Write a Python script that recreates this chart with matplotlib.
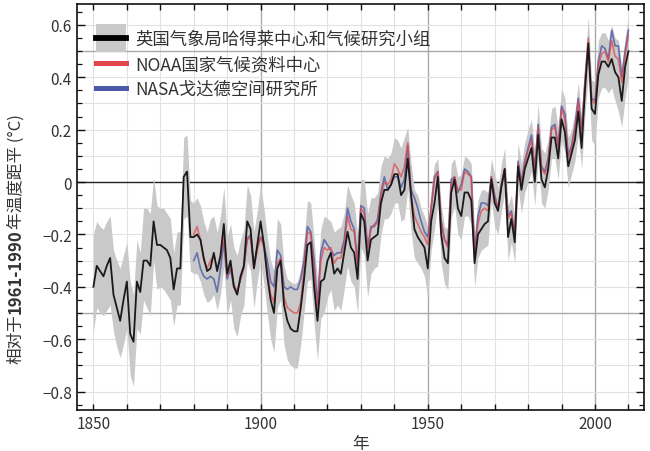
import matplotlib
matplotlib.use('Agg')
import matplotlib.pyplot as plt
import numpy as np
from matplotlib.patches import Rectangle
from matplotlib.lines import Line2D
from matplotlib.legend_handler import HandlerBase

plt.rcParams['font.family'] = ['Noto Sans CJK SC', 'DejaVu Sans']

years_had = np.arange(1850, 2011)
hadcrut = [
    -0.40, -0.32, -0.34, -0.36, -0.32, -0.29, -0.43, -0.48, -0.53, -0.45,
    -0.38, -0.58, -0.61, -0.38, -0.42, -0.30, -0.30, -0.32, -0.15, -0.24,
    -0.24, -0.25, -0.26, -0.29, -0.41, -0.33, -0.33, 0.02, 0.04, -0.21,
    -0.21, -0.20, -0.22, -0.29, -0.34, -0.33, -0.27, -0.34, -0.28, -0.16,
    -0.35, -0.30, -0.40, -0.43, -0.36, -0.32, -0.15, -0.18, -0.33, -0.24,
    -0.15, -0.24, -0.36, -0.45, -0.50, -0.33, -0.30, -0.47, -0.53, -0.56,
    -0.57, -0.57, -0.48, -0.37, -0.24, -0.23, -0.40, -0.53, -0.38, -0.37,
    -0.30, -0.27, -0.35, -0.33, -0.35, -0.27, -0.19, -0.25, -0.27, -0.37,
    -0.12, -0.15, -0.30, -0.22, -0.21, -0.20, -0.08, -0.03, -0.03, -0.01,
    0.03, 0.03, -0.05, -0.03, 0.09, -0.05, -0.18, -0.21, -0.23, -0.25,
    -0.33, -0.15, -0.08, 0.02, -0.20, -0.29, -0.31, -0.04, 0.01, -0.10,
    -0.13, -0.04, -0.04, -0.07, -0.31, -0.20, -0.18, -0.16, -0.15, 0.01,
    -0.08, -0.11, -0.02, 0.05, -0.21, -0.14, -0.23, 0.06, -0.03, 0.05,
    0.09, 0.13, 0.00, 0.18, 0.01, -0.02, 0.05, 0.17, 0.17, 0.09,
    0.24, 0.19, 0.06, 0.11, 0.16, 0.27, 0.13, 0.35, 0.53, 0.28,
    0.26, 0.41, 0.46, 0.46, 0.44, 0.47, 0.42, 0.40, 0.31, 0.44, 0.50]
band_upper = [
    -0.20, -0.15, -0.17, -0.18, -0.15, -0.13, -0.26, -0.30, -0.33, -0.28,
    -0.23, -0.38, -0.43, -0.22, -0.27, -0.10, -0.10, -0.12, 0.02, -0.09,
    -0.10, -0.10, -0.12, -0.14, -0.27, -0.19, -0.19, 0.17, 0.18, -0.07,
    -0.08, -0.06, -0.09, -0.15, -0.19, -0.14, -0.13, -0.19, -0.13, -0.02,
    -0.21, -0.16, -0.25, -0.28, -0.22, -0.18, -0.01, -0.05, -0.19, -0.11,
    -0.01, -0.10, -0.21, -0.30, -0.34, -0.14, -0.16, -0.32, -0.37, -0.38,
    -0.39, -0.38, -0.33, -0.22, -0.07, -0.08, -0.22, -0.38, -0.18, -0.13,
    -0.14, -0.15, -0.19, -0.18, -0.17, -0.12, -0.01, -0.05, -0.08, -0.20,
    0.01, 0.01, -0.12, -0.06, -0.06, -0.04, 0.06, 0.10, 0.09, 0.11,
    0.17, 0.16, 0.13, 0.17, 0.21, 0.07, -0.03, -0.05, -0.10, -0.13,
    -0.17, -0.03, 0.07, 0.09, -0.09, -0.17, -0.18, 0.07, 0.09, 0.02,
    0.03, 0.10, 0.09, 0.07, -0.19, -0.07, -0.03, -0.03, -0.04, 0.09,
    0.03, -0.02, 0.07, 0.13, -0.09, -0.05, -0.13, 0.15, 0.07, 0.15,
    0.20, 0.24, 0.11, 0.30, 0.13, 0.11, 0.16, 0.28, 0.29, 0.21,
    0.36, 0.32, 0.17, 0.20, 0.27, 0.38, 0.25, 0.46, 0.63, 0.39,
    0.38, 0.54, 0.57, 0.57, 0.54, 0.60, 0.55, 0.54, 0.44, 0.55, 0.63]
band_lower = [
    -0.57, -0.48, -0.50, -0.51, -0.49, -0.47, -0.57, -0.63, -0.67, -0.62,
    -0.56, -0.74, -0.78, -0.56, -0.58, -0.45, -0.48, -0.51, -0.30, -0.41,
    -0.40, -0.41, -0.43, -0.45, -0.55, -0.47, -0.47, -0.14, -0.13, -0.34,
    -0.35, -0.35, -0.38, -0.43, -0.46, -0.45, -0.43, -0.49, -0.43, -0.32,
    -0.51, -0.45, -0.56, -0.59, -0.51, -0.47, -0.30, -0.34, -0.48, -0.38,
    -0.30, -0.39, -0.50, -0.60, -0.65, -0.48, -0.45, -0.62, -0.68, -0.70,
    -0.71, -0.71, -0.62, -0.50, -0.38, -0.37, -0.54, -0.68, -0.52, -0.50,
    -0.44, -0.41, -0.49, -0.47, -0.49, -0.41, -0.32, -0.38, -0.40, -0.50,
    -0.25, -0.28, -0.44, -0.35, -0.33, -0.32, -0.20, -0.14, -0.14, -0.12,
    -0.08, -0.08, -0.15, -0.14, -0.03, -0.19, -0.29, -0.31, -0.33, -0.36,
    -0.44, -0.26, -0.18, -0.08, -0.31, -0.39, -0.41, -0.14, -0.09, -0.20,
    -0.22, -0.13, -0.13, -0.16, -0.40, -0.29, -0.26, -0.25, -0.24, -0.07,
    -0.17, -0.20, -0.11, -0.04, -0.30, -0.23, -0.31, -0.02, -0.12, -0.04,
    0.00, 0.04, -0.09, 0.09, -0.08, -0.10, -0.03, 0.09, 0.09, 0.01,
    0.16, 0.11, -0.02, 0.03, 0.08, 0.18, 0.05, 0.26, 0.41, 0.16,
    0.14, 0.32, 0.36, 0.36, 0.34, 0.36, 0.31, 0.27, 0.21, 0.32, 0.40]

years_us = np.arange(1880, 2011)
noaa = [
    -0.20, -0.17, -0.22, -0.30, -0.33, -0.30, -0.28, -0.33, -0.29, -0.21,
    -0.36, -0.32, -0.39, -0.42, -0.37, -0.33, -0.21, -0.22, -0.33, -0.26,
    -0.21, -0.25, -0.34, -0.43, -0.46, -0.31, -0.29, -0.44, -0.48, -0.49,
    -0.50, -0.50, -0.46, -0.33, -0.19, -0.20, -0.33, -0.50, -0.30, -0.25,
    -0.26, -0.25, -0.31, -0.29, -0.29, -0.24, -0.13, -0.18, -0.19, -0.32,
    -0.10, -0.12, -0.27, -0.18, -0.16, -0.16, -0.05, 0.00, -0.01, 0.01,
    0.07, 0.05, 0.02, 0.06, 0.15, -0.05, -0.13, -0.16, -0.19, -0.21,
    -0.24, -0.10, 0.01, 0.04, -0.15, -0.22, -0.25, -0.01, 0.02, -0.03,
    -0.03, 0.04, 0.03, 0.02, -0.29, -0.16, -0.11, -0.10, -0.11, 0.02,
    -0.06, -0.10, -0.01, 0.05, -0.14, -0.12, -0.20, 0.07, -0.01, 0.07,
    0.12, 0.16, 0.04, 0.21, 0.05, 0.03, 0.08, 0.20, 0.21, 0.13,
    0.28, 0.24, 0.09, 0.13, 0.20, 0.31, 0.18, 0.39, 0.55, 0.31,
    0.30, 0.44, 0.49, 0.50, 0.46, 0.54, 0.48, 0.47, 0.38, 0.48, 0.56]
nasa = [
    -0.30, -0.27, -0.33, -0.36, -0.37, -0.36, -0.37, -0.42, -0.33, -0.23,
    -0.37, -0.33, -0.40, -0.42, -0.37, -0.32, -0.22, -0.20, -0.32, -0.25,
    -0.21, -0.24, -0.30, -0.38, -0.40, -0.26, -0.28, -0.40, -0.41, -0.40,
    -0.41, -0.41, -0.37, -0.30, -0.17, -0.19, -0.30, -0.47, -0.27, -0.22,
    -0.24, -0.26, -0.28, -0.27, -0.27, -0.22, -0.10, -0.15, -0.18, -0.31,
    -0.09, -0.10, -0.25, -0.17, -0.17, -0.14, -0.04, 0.02, -0.03, -0.01,
    0.02, 0.02, -0.02, 0.01, 0.14, -0.03, -0.06, -0.10, -0.15, -0.19,
    -0.21, -0.10, 0.02, 0.04, -0.15, -0.22, -0.24, 0.01, 0.02, -0.04,
    -0.01, 0.05, 0.04, 0.02, -0.27, -0.13, -0.08, -0.08, -0.09, 0.02,
    -0.05, -0.10, -0.01, 0.05, -0.13, -0.11, -0.21, 0.08, 0.00, 0.08,
    0.13, 0.18, 0.05, 0.22, 0.06, 0.04, 0.09, 0.21, 0.22, 0.14,
    0.29, 0.26, 0.10, 0.14, 0.21, 0.32, 0.20, 0.38, 0.52, 0.32,
    0.31, 0.46, 0.52, 0.51, 0.47, 0.58, 0.52, 0.52, 0.40, 0.50, 0.58]

labels = ['英国气象局哈得莱中心和气候研究小组', 'NOAA国家气候资料中心', 'NASA戈达德空间研究所']
xticks = [1850, 1900, 1950, 2000]
yticks = [-0.8, -0.6, -0.4, -0.2, 0.0, 0.2, 0.4, 0.6]
xlabel = '年'
ylabel_parts = ['相对于', '1961-1990', '年温度距平 (°C)']

BAND_C = '#c9c9c9'
RED_C = '#e0464b'
BLUE_C = '#4a5aa8'
TXT = '#333333'

fig = plt.figure(figsize=(6.5, 4.52), dpi=100)
ax = fig.add_axes([0.118, 0.091, 0.873, 0.898])
ax.set_xlim(1845.0, 2014.7)
ax.set_ylim(-0.87, 0.68)

# grid
for gx in range(1850, 2011, 10):
    dark = gx in (1900, 1950, 2000)
    ax.axvline(gx, color='#a9a9a9' if dark else '#e2e2e2', lw=1.0 if dark else 0.8, zorder=0)
for gy in np.arange(-0.8, 0.65, 0.1):
    gy = round(gy, 1)
    if gy == 0:
        continue
    dark = abs(gy) == 0.5
    ax.axhline(gy, color='#a9a9a9' if dark else '#e2e2e2', lw=1.0 if dark else 0.8, zorder=0)
ax.axhline(0, color='#222222', lw=1.0, zorder=1)

ax.fill_between(years_had, band_lower, band_upper, color=BAND_C, lw=0, zorder=2)
ax.plot(years_us, nasa, color=BLUE_C, lw=1.2, alpha=0.8, zorder=3)
ax.plot(years_us, noaa, color=RED_C, lw=1.2, alpha=0.7, zorder=4)
ax.plot(years_had, hadcrut, color='#1a1a1a', lw=1.3, zorder=5)

ax.set_xticks(xticks)
ax.set_xticks(np.arange(1850, 2011, 10), minor=True)
ax.set_yticks(yticks)
ax.set_yticks(np.arange(-0.85, 0.66, 0.05), minor=True)
ax.set_yticklabels([f'{v:.1f}'.replace('-', '\u2212') if v != 0 else '0' for v in yticks])
ax.tick_params(which='both', direction='in', top=True, right=True, colors='#111111',
               labelcolor=TXT, labelsize=11)
ax.tick_params(axis='y', which='major', length=6, width=1.0)
ax.tick_params(axis='y', which='minor', length=3.5, width=0.9)
ax.tick_params(axis='x', which='both', length=4.5, width=1.0)
for s in ax.spines.values():
    s.set_color('#111111')
    s.set_linewidth(1.2)

ax.set_xlabel(xlabel, fontsize=12, color=TXT, labelpad=2)


class BandLineHandler(HandlerBase):
    def create_artists(self, legend, orig_handle, xdescent, ydescent, width, height, fontsize, trans):
        h = fontsize * 1.6
        cy = height / 2 - ydescent
        rect = Rectangle((-xdescent, cy - h / 2), width, h, facecolor=BAND_C, edgecolor='none', transform=trans)
        line = Line2D([-xdescent, -xdescent + width], [cy, cy], color='black', lw=4.2, transform=trans)
        return [rect, line]


h1 = Rectangle((0, 0), 1, 1)
h2 = Line2D([], [], color=RED_C, lw=3.6)
h3 = Line2D([], [], color=BLUE_C, lw=3.6)
leg = ax.legend([h1, h2, h3], labels, loc='upper left', bbox_to_anchor=(0.021, 0.953),
                frameon=False, fontsize=12.5, handlelength=1.75, handletextpad=0.55,
                labelspacing=0.4, borderaxespad=0.0, borderpad=0.4,
                handler_map={Rectangle: BandLineHandler()})
for t in leg.get_texts():
    t.set_color(TXT)

# y label in pieces (bold year span)
fig.canvas.draw()
r = fig.canvas.get_renderer()
W, H = fig.bbox.width, fig.bbox.height
weights = ['normal', 'bold', 'normal']
heights = []
for part, w in zip(ylabel_parts, weights):
    t = fig.text(0, 0, part, rotation=90, fontsize=12, fontweight=w, color=TXT)
    bb = t.get_window_extent(r)
    heights.append(bb.height)
    t.remove()
total = sum(heights)
center_y = (452 - 239) / 452 * H
y0 = center_y - total / 2
x_px = 16
for part, w, hh in zip(ylabel_parts, weights, heights):
    fig.text(x_px / W, y0 / H, part, rotation=90, fontsize=12, fontweight=w, color=TXT,
             ha='center', va='bottom')
    y0 += hh

fig.savefig('out.png', dpi=100)
